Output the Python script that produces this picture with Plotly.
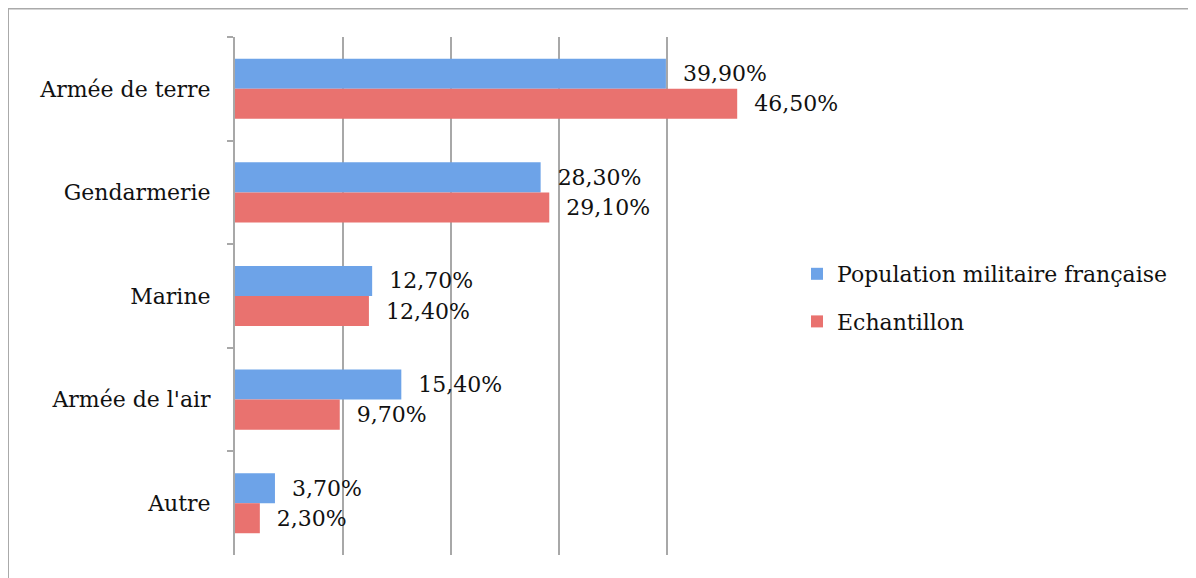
import plotly.graph_objects as go

categories = ["Armée de terre", "Gendarmerie", "Marine", "Armée de l'air", "Autre"]
population = [39.9, 28.3, 12.7, 15.4, 3.7]
echantillon = [46.5, 29.1, 12.4, 9.7, 2.3]
series_names = ["Population militaire française", "Echantillon"]

FONT = "DejaVu Serif"
OFF = 8  # page body margin
W, H = 1196 - OFF, 578 - OFF
L, R, T, B = 235 - OFF, 421, 37 - OFF, 23
pw, ph = W - L - R, H - T - B

def px_x(x):
    return (x - OFF - L) / pw

def px_y(y):
    return (H - B - (y - OFF)) / ph

TXT = "#111111"

fig = go.Figure()
fig.add_trace(go.Bar(
    y=categories, x=population, orientation="h", name=series_names[0],
    marker=dict(color="#6DA3E8", line=dict(width=0)),
    texttemplate="\u00a0\u00a0%{x:.2f}%", textposition="outside",
    textfont=dict(family=FONT, size=22, color=TXT),
    cliponaxis=False, constraintext="none", legendgroup="a",
))
fig.add_trace(go.Bar(
    y=categories, x=echantillon, orientation="h", name=series_names[1],
    marker=dict(color="#E9726F", line=dict(width=0)),
    texttemplate="\u00a0\u00a0%{x:.2f}%", textposition="outside",
    textfont=dict(family=FONT, size=22, color=TXT),
    cliponaxis=False, constraintext="none", legendgroup="b",
))

fig.update_layout(
    width=W, height=H,
    margin=dict(l=L, r=R, t=T, b=B),
    paper_bgcolor="white", plot_bgcolor="white",
    barmode="group", bargap=0.42, bargroupgap=0,
    separators=", ",
    font=dict(family=FONT, size=22, color=TXT),
    legend=dict(x=px_x(797), y=px_y(298), xanchor="left", yanchor="middle",
                font=dict(family=FONT, size=22, color=TXT),
                traceorder="grouped", tracegroupgap=16, itemwidth=30),
    xaxis=dict(range=[0, 50], dtick=10, showticklabels=False, showgrid=True,
               gridcolor="#A8A8A8", gridwidth=2, zeroline=False, showline=False,
               fixedrange=True),
    yaxis=dict(autorange="reversed", tickson="boundaries", ticks="outside",
               ticklen=6, tickcolor="#A8A8A8", tickwidth=2, showline=True,
               linecolor="#A8A8A8", linewidth=2, showgrid=False,
               ticklabelstandoff=18, tickfont=dict(family=FONT, size=22, color=TXT)),
    shapes=[
        dict(type="line", xref="paper", yref="paper", x0=px_x(8), x1=px_x(1196),
             y0=px_y(8), y1=px_y(8), line=dict(color="#AAAAAA", width=3)),
        dict(type="line", xref="paper", yref="paper", x0=px_x(8), x1=px_x(8),
             y0=px_y(8), y1=px_y(578), line=dict(color="#AAAAAA", width=2)),
    ],
)

fig.write_html("out.html")
